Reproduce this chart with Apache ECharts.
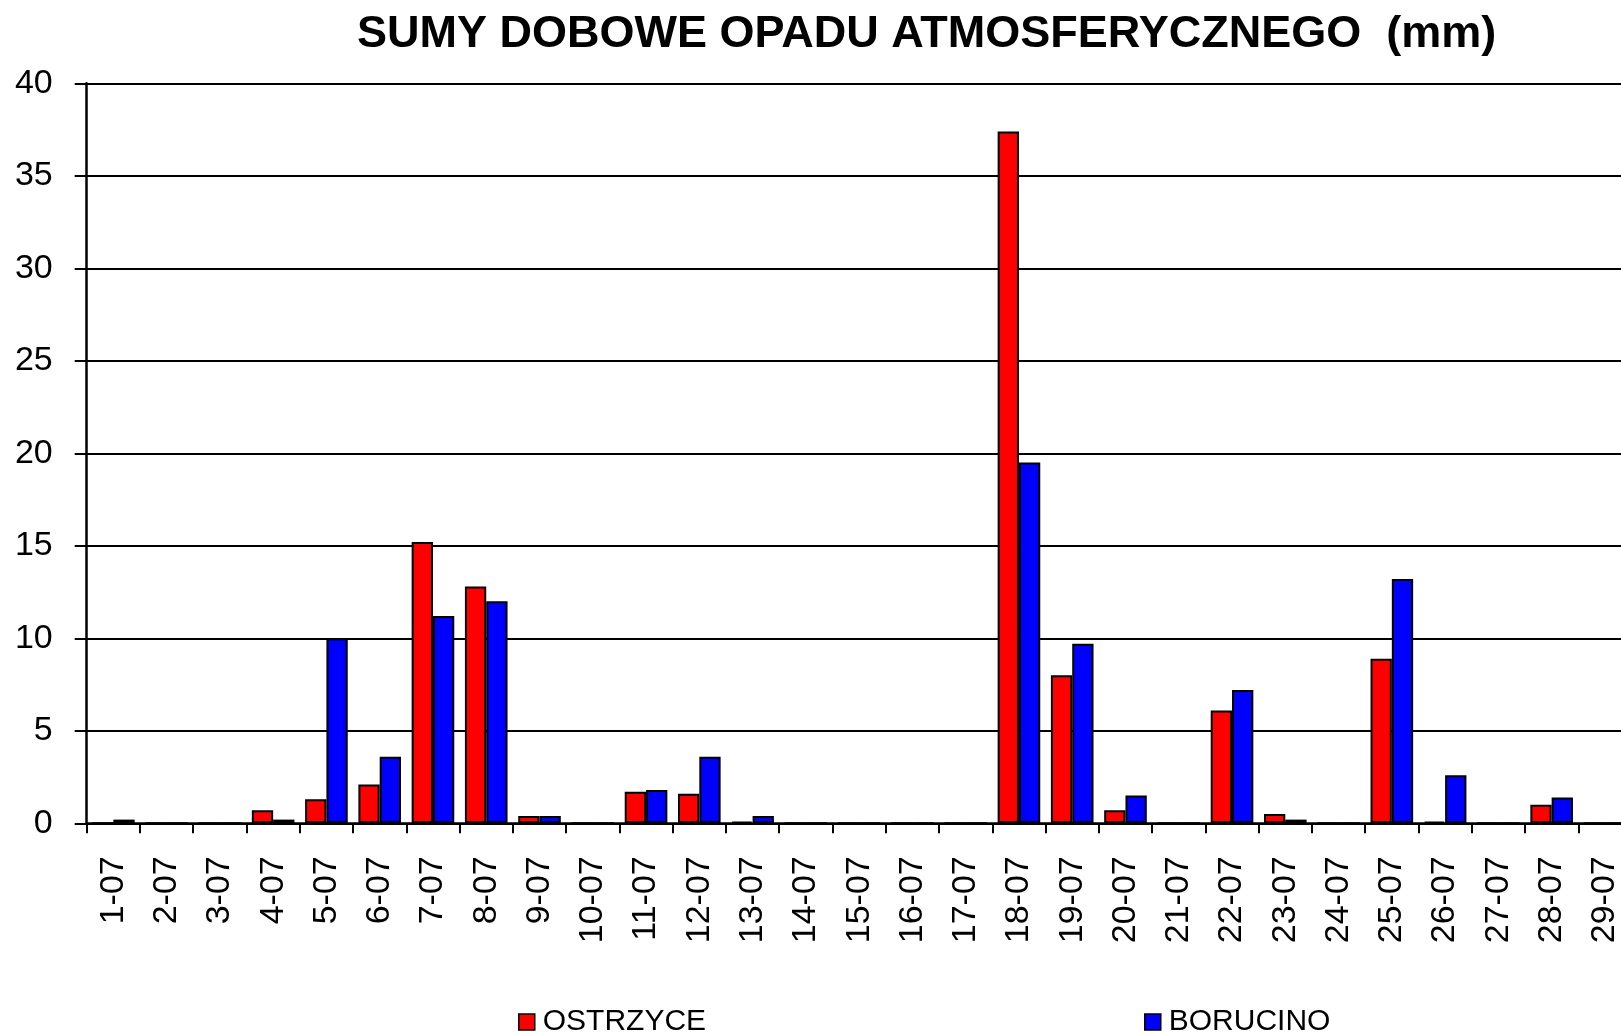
<!DOCTYPE html>
<html>
<head>
<meta charset="utf-8">
<script src="https://cdn.jsdelivr.net/npm/echarts@6/dist/echarts.min.js"></script>
<style>
html,body{margin:0;padding:0;background:#fff;overflow:hidden;width:1621px;height:1035px;}
#chart{width:1760px;height:1035px;}
</style>
</head>
<body>
<div id="chart"></div>
<script>
var categories = ['1-07','2-07','3-07','4-07','5-07','6-07','7-07','8-07','9-07','10-07','11-07','12-07','13-07','14-07','15-07','16-07','17-07','18-07','19-07','20-07','21-07','22-07','23-07','24-07','25-07','26-07','27-07','28-07','29-07','30-07','31-07'];
var ostrzyce = [0,0,0,0.7,1.3,2.1,15.2,12.8,0.4,0,1.7,1.6,0.1,0,0,0,0,37.4,8.0,0.7,0,6.1,0.5,0,8.9,0.1,0,1.0,0,0,0];
var borucino = [0.2,0,0,0.2,10.0,3.6,11.2,12.0,0.4,0,1.8,3.6,0.4,0,0,0,0,19.5,9.7,1.5,0,7.2,0.2,0,13.2,2.6,0,1.4,0,0,0];
var yTicks = {min:0, max:40, interval:5};
var titleText = 'SUMY DOBOWE OPADU ATMOSFERYCZNEGO  (mm)';

var FONT = '"Liberation Sans", Arial, sans-serif';
var chart = echarts.init(document.getElementById('chart'), null, {renderer:'canvas'});
chart.setOption({
  backgroundColor:'#ffffff',
  animation:false,
  title:{
    text:titleText,
    left:352, top:7,
    textStyle:{fontFamily:FONT, fontSize:45, fontWeight:'bold', color:'#000'}
  },
  legend:[
    {data:['OSTRZYCE'], left:513, top:1002, icon:'rect', itemWidth:16, itemHeight:16, itemGap:0,
     itemStyle:{borderColor:'#000', borderWidth:1.5},
     textStyle:{fontFamily:FONT, fontSize:30, color:'#000', padding:[0,0,0,3]}},
    {data:['BORUCINO'], left:1139, top:1002, icon:'rect', itemWidth:16, itemHeight:16, itemGap:0,
     itemStyle:{borderColor:'#000', borderWidth:1.5},
     textStyle:{fontFamily:FONT, fontSize:30, color:'#000', padding:[0,0,0,3]}}
  ],
  grid:{left:86.7, top:83.3, right:21.9, bottom:211.7, containLabel:false},
  xAxis:{
    type:'category',
    data:categories,
    boundaryGap:true,
    axisLine:{lineStyle:{color:'#000', width:2.5}},
    axisTick:{show:true, length:10, lineStyle:{color:'#000', width:2}, interval:0},
    axisLabel:{interval:0, rotate:90, margin:33, fontFamily:FONT, fontSize:34, color:'#000'},
    splitLine:{show:false}
  },
  yAxis:{
    type:'value',
    min:yTicks.min, max:yTicks.max, interval:yTicks.interval,
    axisLine:{show:true, lineStyle:{color:'#000', width:2.5}},
    axisTick:{show:true, inside:false, length:12, lineStyle:{color:'#000', width:2}},
    axisLabel:{margin:34, fontFamily:FONT, fontSize:34, color:'#000'},
    splitLine:{show:true, lineStyle:{color:'#000', width:2}}
  },
  series:[
    {name:'OSTRZYCE', type:'bar', data:ostrzyce, barGap:'0%', barCategoryGap:'20%',
     itemStyle:{color:'#ff0000', borderColor:'#000', borderWidth:2}},
    {name:'BORUCINO', type:'bar', data:borucino, barGap:'0%', barCategoryGap:'20%',
     itemStyle:{color:'#0000ff', borderColor:'#000', borderWidth:2}}
  ]
});
</script>
</body>
</html>
